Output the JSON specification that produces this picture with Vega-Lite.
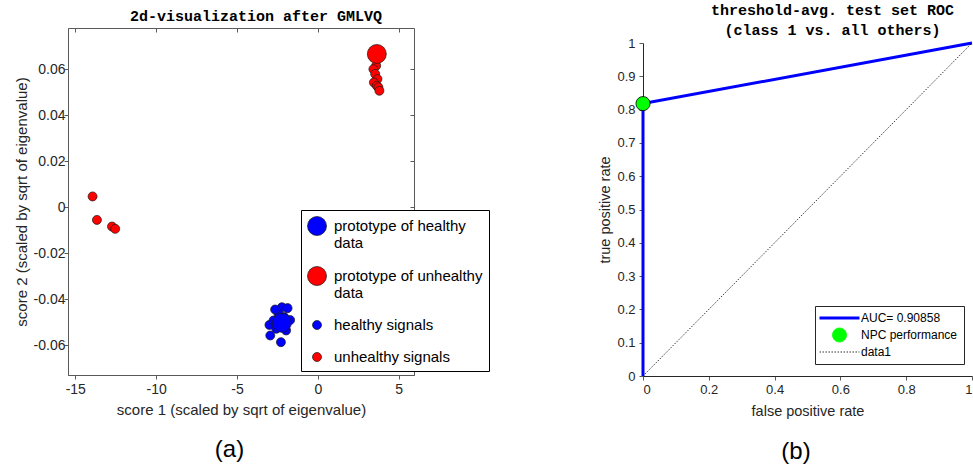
{
  "$schema": "https://vega.github.io/schema/vega-lite/v6.json",
  "background": "white",
  "padding": {"left": 13, "top": 3, "right": 0, "bottom": 0},
  "config": {
    "font": "Liberation Sans",
    "view": {"stroke": "#5a5a5a", "strokeWidth": 1},
    "axis": {
      "grid": false,
      "domainColor": "#5a5a5a",
      "tickColor": "#5a5a5a",
      "tickSize": 4,
      "labelColor": "#262626",
      "titleColor": "#262626",
      "titleFontWeight": "normal",
      "labelFont": "Liberation Sans",
      "titleFont": "Liberation Sans"
    },
    "title": {"color": "#000000"}
  },
  "spacing": 107,
  "resolve": {"scale": {"color": "independent", "shape": "independent"}},
  "hconcat": [
    {
      "title": {"text": "(a)", "orient": "bottom", "anchor": "middle", "fontSize": 24, "fontWeight": "normal", "font": "Liberation Sans", "offset": 20, "dx": -22},
      "vconcat": [
        {
          "width": 346,
          "height": 347,
          "title": {"text": "2d-visualization after GMLVQ", "font": "Liberation Mono", "fontWeight": "bold", "fontSize": 15, "anchor": "middle", "dx": 15, "offset": 4},
          "data": {
            "values": [
              {"score1": -2.22, "score2": -0.0435, "kind": "healthy signals"},
              {"score1": -1.87, "score2": -0.0439, "kind": "healthy signals"},
              {"score1": -2.43, "score2": -0.0464, "kind": "healthy signals"},
              {"score1": -2.99, "score2": -0.0512, "kind": "healthy signals"},
              {"score1": -2.94, "score2": -0.0558, "kind": "healthy signals"},
              {"score1": -2.28, "score2": -0.0587, "kind": "healthy signals"},
              {"score1": -2.57, "score2": -0.0529, "kind": "healthy signals"},
              {"score1": -1.96, "score2": -0.0536, "kind": "healthy signals"},
              {"score1": -2.74, "score2": -0.0493, "kind": "healthy signals"},
              {"score1": -2.08, "score2": -0.0478, "kind": "healthy signals"},
              {"score1": -1.71, "score2": -0.0491, "kind": "healthy signals"},
              {"score1": -2.64, "score2": -0.0445, "kind": "healthy signals"},
              {"score1": -13.93, "score2": 0.0047, "kind": "unhealthy signals"},
              {"score1": -13.66, "score2": -0.0055, "kind": "unhealthy signals"},
              {"score1": -12.73, "score2": -0.0084, "kind": "unhealthy signals"},
              {"score1": -12.53, "score2": -0.0094, "kind": "unhealthy signals"},
              {"score1": 3.61, "score2": 0.0616, "kind": "unhealthy signals"},
              {"score1": 3.44, "score2": 0.0601, "kind": "unhealthy signals"},
              {"score1": 3.55, "score2": 0.058, "kind": "unhealthy signals"},
              {"score1": 3.69, "score2": 0.0558, "kind": "unhealthy signals"},
              {"score1": 3.47, "score2": 0.0543, "kind": "unhealthy signals"},
              {"score1": 3.65, "score2": 0.0529, "kind": "unhealthy signals"},
              {"score1": 3.75, "score2": 0.0522, "kind": "unhealthy signals"},
              {"score1": 3.81, "score2": 0.0507, "kind": "unhealthy signals"},
              {"score1": -2.22, "score2": -0.0503, "kind": "prototype of healthy data"},
              {"score1": 3.65, "score2": 0.0667, "kind": "prototype of unhealthy data"}
            ]
          },
          "resolve": {"axis": {"x": "independent", "y": "independent"}},
          "layer": [
            {
              "transform": [{"filter": "indexof(datum.kind, 'prototype') !== 0"}],
              "mark": {"type": "point", "filled": true, "opacity": 1, "size": 361, "stroke": "#1a1a1a", "strokeWidth": 0.7},
              "encoding": {
                "x": {
                  "field": "score1",
                  "type": "quantitative",
                  "scale": {"domain": [-15.45, 5.95], "nice": false, "zero": false},
                  "axis": {"values": [-15, -10, -5, 0, 5], "labelExpr": "'' + datum.value", "labelFontSize": 14, "titleFontSize": 15, "labelPadding": 3, "titlePadding": 6, "title": "score 1 (scaled by sqrt of eigenvalue)"}
                },
                "y": {
                  "field": "score2",
                  "type": "quantitative",
                  "scale": {"domain": [-0.073, 0.078], "nice": false, "zero": false},
                  "axis": {"values": [-0.06, -0.04, -0.02, 0, 0.02, 0.04, 0.06], "labelExpr": "'' + datum.value", "labelFontSize": 14, "titleFontSize": 15, "labelPadding": -1, "titlePadding": 4, "title": "score 2 (scaled by sqrt of eigenvalue)"}
                },
                "color": {
                  "field": "kind",
                  "type": "nominal",
                  "scale": {
                    "domain": ["prototype of healthy data", "prototype of unhealthy data", "healthy signals", "unhealthy signals"],
                    "range": ["#0000ff", "#ff0000", "#0000ff", "#ff0000"]
                  },
                  "legend": {
                    "orient": "none",
                    "legendX": 233,
                    "legendY": 182,
                    "title": null,
                    "fillColor": "white",
                    "strokeColor": "#000000",
                    "padding": 6,
                    "rowPadding": 14,
                    "labelOffset": 7,
                    "labelFontSize": 15,
                    "labelColor": "#000000",
                    "labelLimit": 300,
                    "symbolSize": 361,
                    "symbolStrokeColor": "#1a1a1a",
                    "symbolStrokeWidth": 0.7,
                    "labelExpr": "datum.label == 'prototype of healthy data' ? ['prototype of healthy', 'data'] : datum.label == 'prototype of unhealthy data' ? ['prototype of unhealthy', 'data'] : datum.label"
                  }
                },
                "shape": {
                  "field": "kind",
                  "type": "nominal",
                  "scale": {
                    "domain": ["prototype of healthy data", "prototype of unhealthy data", "healthy signals", "unhealthy signals"],
                    "range": ["circle", "circle", "M0.474,0A0.474,0.474 0 1,1 -0.474,0A0.474,0.474 0 1,1 0.474,0Z", "M0.474,0A0.474,0.474 0 1,1 -0.474,0A0.474,0.474 0 1,1 0.474,0Z"]
                  },
                  "legend": {
                    "orient": "none",
                    "legendX": 233,
                    "legendY": 182,
                    "title": null,
                    "fillColor": "white",
                    "strokeColor": "#000000",
                    "padding": 6,
                    "rowPadding": 14,
                    "labelOffset": 7,
                    "labelFontSize": 15,
                    "labelColor": "#000000",
                    "labelLimit": 300,
                    "symbolSize": 361,
                    "symbolStrokeColor": "#1a1a1a",
                    "symbolStrokeWidth": 0.7,
                    "labelExpr": "datum.label == 'prototype of healthy data' ? ['prototype of healthy', 'data'] : datum.label == 'prototype of unhealthy data' ? ['prototype of unhealthy', 'data'] : datum.label"
                  }
                }
              }
            },
            {
              "transform": [{"filter": "indexof(datum.kind, 'prototype') === 0"}],
              "mark": {"type": "point", "filled": true, "opacity": 1, "size": 361, "stroke": "#1a1a1a", "strokeWidth": 0.7},
              "encoding": {
                "x": {
                  "field": "score1",
                  "type": "quantitative",
                  "axis": {"orient": "top", "values": [-15, -10, -5, 0, 5], "labels": false, "domain": false, "tickSize": -4, "title": null}
                },
                "y": {
                  "field": "score2",
                  "type": "quantitative",
                  "axis": {"orient": "right", "values": [-0.06, -0.04, -0.02, 0, 0.02, 0.04, 0.06], "labels": false, "domain": false, "tickSize": -4, "title": null}
                },
                "color": {"field": "kind", "type": "nominal"},
                "shape": {"field": "kind", "type": "nominal"}
              }
            }
          ]
        }
      ]
    },
    {
      "title": {"text": "(b)", "orient": "bottom", "anchor": "middle", "fontSize": 24, "fontWeight": "normal", "font": "Liberation Sans", "offset": 22, "dx": 8},
      "vconcat": [
        {
          "width": 329,
          "height": 348,
          "view": {"stroke": null},
          "title": {"text": ["threshold-avg. test set ROC", "(class 1 vs. all others)"], "font": "Liberation Mono", "fontWeight": "bold", "fontSize": 15, "lineHeight": 20, "anchor": "middle", "dx": 25, "offset": -10},
          "encoding": {
            "x": {
              "field": "fpr",
              "type": "quantitative",
              "scale": {"domain": [0, 1], "nice": false},
              "axis": {"values": [0, 0.2, 0.4, 0.6, 0.8, 1], "labelExpr": "'' + datum.value", "labelFontSize": 13, "titleFontSize": 14.5, "labelPadding": 3, "titlePadding": 8, "title": "false positive rate", "domainColor": "#262626"}
            },
            "y": {
              "field": "tpr",
              "type": "quantitative",
              "scale": {"domain": [0, 1], "nice": false, "range": [348, 15]},
              "axis": {"values": [0, 0.1, 0.2, 0.3, 0.4, 0.5, 0.6, 0.7, 0.8, 0.9, 1], "labelExpr": "'' + datum.value", "labelFontSize": 13, "titleFontSize": 14.5, "labelPadding": 4, "titlePadding": 4, "title": "true positive rate", "domainColor": "#262626"}
            }
          },
          "layer": [
            {
              "data": {"values": [{}]},
              "mark": {"type": "rule", "color": "#262626", "strokeWidth": 1},
              "encoding": {"x": {"datum": 0, "type": "quantitative"}, "x2": {"datum": 1}, "y": {"datum": 1, "type": "quantitative"}}
            },
            {
              "data": {"values": [{}]},
              "mark": {"type": "rule", "color": "#262626", "strokeWidth": 1},
              "encoding": {"x": {"datum": 1, "type": "quantitative"}, "y": {"datum": 0, "type": "quantitative"}, "y2": {"datum": 1}}
            },
            {
              "data": {
                "values": [
                  {"fpr": 0, "tpr": 0, "step": 0, "series": "AUC= 0.90858"},
                  {"fpr": 0, "tpr": 0.818, "step": 1, "series": "AUC= 0.90858"},
                  {"fpr": 1, "tpr": 1, "step": 2, "series": "AUC= 0.90858"}
                ]
              },
              "mark": {"type": "line", "strokeWidth": 3},
              "encoding": {
                "order": {"field": "step", "type": "quantitative"},
                "color": {
                  "field": "series",
                  "type": "nominal",
                  "scale": {"domain": ["AUC= 0.90858", "NPC performance", "data1"], "range": ["#0000ff", "#00ff00", "#000000"]},
                  "legend": {
                    "orient": "none",
                    "legendX": 172,
                    "legendY": 278,
                    "title": null,
                    "fillColor": "white",
                    "strokeColor": "#262626",
                    "padding": 6,
                    "rowPadding": 2,
                    "labelOffset": 28,
                    "labelFontSize": 12,
                    "labelColor": "#000000",
                    "symbolSize": 225,
                    "encode": {
                      "symbols": {
                        "update": {
                          "shape": {"signal": "datum.value === 'NPC performance' ? 'M2.6,0A0.933,0.933 0 1,1 0.733,0A0.933,0.933 0 1,1 2.6,0Z' : 'M-1,0H4.333'"},
                          "size": {"value": 225},
                          "fill": {"signal": "datum.value === 'NPC performance' ? '#00ff00' : 'transparent'"},
                          "stroke": {"signal": "datum.value === 'AUC= 0.90858' ? '#0000ff' : '#000000'"},
                          "strokeWidth": {"signal": "datum.value === 'AUC= 0.90858' ? 3 : 0.8"},
                          "strokeDash": {"signal": "datum.value === 'data1' ? [1.5, 1.5] : [1, 0]"},
                          "opacity": {"value": 1}
                        }
                      }
                    }
                  }
                }
              }
            },
            {
              "data": {
                "values": [
                  {"fpr": 0, "tpr": 0, "step": 0, "series": "data1"},
                  {"fpr": 1, "tpr": 1, "step": 1, "series": "data1"}
                ]
              },
              "mark": {"type": "line", "strokeWidth": 0.8, "strokeDash": [1.5, 1.5]},
              "encoding": {
                "order": {"field": "step", "type": "quantitative"},
                "color": {"field": "series", "type": "nominal"}
              }
            },
            {
              "data": {
                "values": [
                  {"fpr": 0, "tpr": 0.818, "series": "NPC performance"}
                ]
              },
              "mark": {"type": "point", "filled": true, "opacity": 1, "size": 200, "stroke": "#000000", "strokeWidth": 0.8},
              "encoding": {
                "color": {"field": "series", "type": "nominal"}
              }
            }
          ]
        }
      ]
    }
  ]
}
